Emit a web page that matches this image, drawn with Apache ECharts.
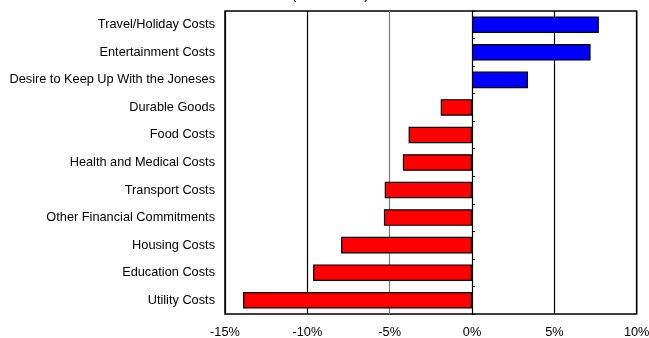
<!DOCTYPE html>
<html>
<head>
<meta charset="utf-8">
<script src="https://cdn.jsdelivr.net/npm/echarts@6/dist/echarts.min.js"></script>
<style>
  html, body { margin: 0; padding: 0; background: #fff; }
  #chart { width: 649px; height: 338px; }
</style>
</head>
<body>
<div id="chart"></div>
<script>
// Spending categories, listed top to bottom
const categories = [
  'Travel/Holiday Costs',
  'Entertainment Costs',
  'Desire to Keep Up With the Joneses',
  'Durable Goods',
  'Food Costs',
  'Health and Medical Costs',
  'Transport Costs',
  'Other Financial Commitments',
  'Housing Costs',
  'Education Costs',
  'Utility Costs'
];

// Net change, in percent
const changes = [7.7, 7.2, 3.4, -1.9, -3.85, -4.2, -5.3, -5.35, -7.95, -9.65, -13.9];

// Value axis ticks
const tickValues = [-15, -10, -5, 0, 5, 10];

const subtitle = '(Net balance)';

const FONT = '"Liberation Sans", Arial, sans-serif';
const FS = 12.75;

const GRID_LEFT = 225, GRID_RIGHT = 12.3;
const PLOT_W = 649 - GRID_LEFT - GRID_RIGHT;

const xMin = tickValues[0], xMax = tickValues[tickValues.length - 1];
// distance from the left plot edge to the zero line
const zeroOffset = (0 - xMin) / (xMax - xMin) * PLOT_W;

const chart = echarts.init(document.getElementById('chart'), null, { renderer: 'canvas' });

chart.setOption({
  animation: false,
  backgroundColor: '#ffffff',
  textStyle: { fontFamily: FONT },
  graphic: [{
    type: 'text',
    left: 292,
    top: -11.5,
    style: { text: subtitle, font: FS + 'px ' + FONT, fill: '#000' }
  }],
  grid: {
    left: GRID_LEFT, top: 11, right: GRID_RIGHT, bottom: 24,
    outerBoundsMode: 'none',
    containLabel: false,
    show: true, borderColor: '#000', borderWidth: 1.5, backgroundColor: '#fff'
  },
  xAxis: {
    type: 'value',
    min: xMin,
    max: xMax,
    interval: tickValues[1] - tickValues[0],
    axisLine: { show: false },
    axisTick: { show: false },
    axisLabel: {
      formatter: v => v + '%',
      color: '#000', fontSize: FS, fontFamily: FONT, margin: 12
    },
    splitLine: {
      show: true,
      lineStyle: {
        color: tickValues.map(v => (v === -5 ? '#7a7a7a' : '#000')),
        width: 1.2
      }
    }
  },
  yAxis: [{
    type: 'category',
    data: categories,
    inverse: true,
    axisLine: { show: false },
    axisTick: { show: false },
    axisLabel: { color: '#000', fontSize: FS, fontFamily: FONT, margin: 10 },
    splitLine: { show: false }
  }, {
    // zero line with small ticks between categories
    type: 'category',
    data: categories,
    inverse: true,
    position: 'left',
    offset: -zeroOffset,
    axisLine: { show: true, onZero: false, lineStyle: { color: '#000', width: 1 } },
    axisTick: { show: true, inside: true, length: 3, lineStyle: { color: '#000' } },
    axisLabel: { show: false },
    splitLine: { show: false }
  }],
  series: [{
    type: 'bar',
    yAxisIndex: 0,
    data: changes,
    barWidth: '60%',
    z: 3,
    itemStyle: {
      color: p => (p.value >= 0 ? '#0000ff' : '#ff0000'),
      borderColor: '#000',
      borderWidth: 1.2
    }
  }]
});
</script>
</body>
</html>
